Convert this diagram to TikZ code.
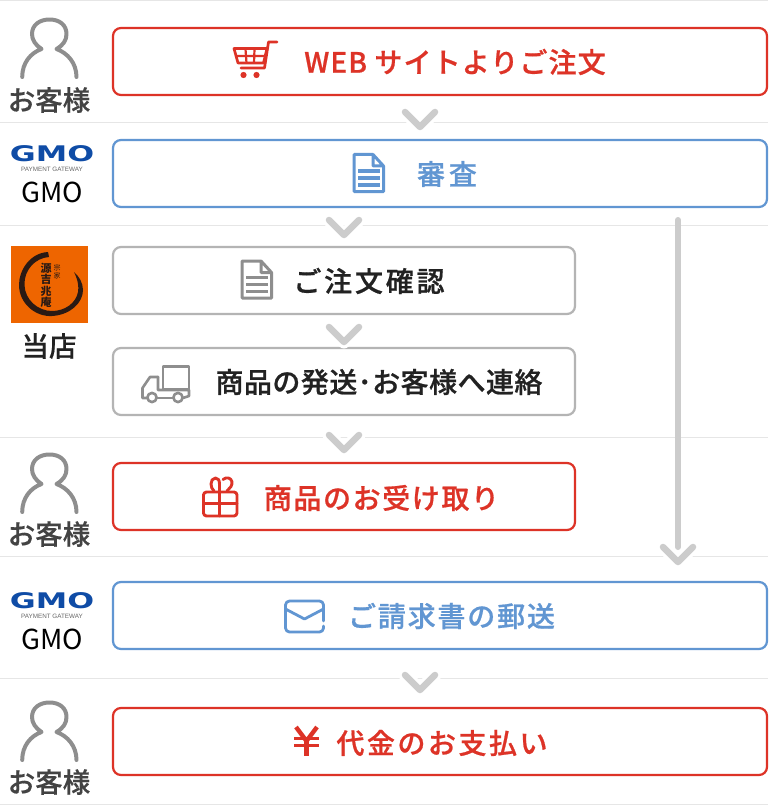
\documentclass[tikz,border=0pt]{standalone}
\usepackage{fontspec}
\setmainfont{Noto Sans CJK JP}
\newfontfamily\jpt[FakeBold=0.7]{Noto Sans CJK JP Medium}
\newfontfamily\jpn{Noto Sans CJK JP}
\newfontfamily\jpm[FakeBold=0.5]{Noto Sans CJK JP Medium}
\newfontfamily\logofont{DejaVu Sans}
\newfontfamily\logosmall{Liberation Sans}
\definecolor{cred}{HTML}{DD3327}
\definecolor{cblue}{HTML}{6196D2}
\definecolor{cgray}{HTML}{B4B4B4}
\definecolor{cicon}{HTML}{8E8E8E}
\definecolor{csep}{HTML}{E6E6E6}
\definecolor{cchev}{HTML}{CCCCCC}
\definecolor{ctext}{HTML}{222222}
\definecolor{corange}{HTML}{EE6500}
\definecolor{cink}{HTML}{2A1A14}
\definecolor{cgmo}{HTML}{0F4CA6}
\tikzset{
  sep/.style={draw=csep,line width=1.4pt},
  chev/.style={draw=cchev,line width=6.5pt,line join=round,line cap=round},
  halo/.style={draw=white,line width=13pt,line join=round,line cap=round},
  flowbox/.style={draw,line width=2.2pt,rounded corners=8pt,fill=white,inner sep=0pt,minimum height=67pt},
  wide/.style={minimum width=654pt},
  narrow/.style={minimum width=462pt},
  redbox/.style={flowbox,draw=cred},
  bluebox/.style={flowbox,draw=cblue},
  graybox/.style={flowbox,draw=cgray},
  title/.style={inner sep=0pt,font=\jpt\fontsize{28}{28}\selectfont},
  who/.style={inner sep=0pt,text=ctext!85!white,font=\jpm\fontsize{27.5}{27.5}\selectfont},
  gmotext/.style={inner sep=0pt,text=black,font=\jpn\fontsize{27.5}{27.5}\selectfont},
  ico/.style={line width=3pt,line cap=round,line join=round},
  person/.pic={\draw[draw=cicon,line width=4pt,line cap=round,line join=round]
    (22.7,77) .. controls (22.7,63) and (31,53) .. (42,49)
    .. controls (36,45) and (32.5,40) .. (32.5,34)
    .. controls (32.5,25) and (40,19.5) .. (50,19.5)
    .. controls (60,19.5) and (67,25) .. (67,34)
    .. controls (67,40) and (64,45) .. (57,49)
    .. controls (68,53) and (77,63) .. (77,77);},
  gmologo/.pic={
    \node[inner sep=0pt,text=cgmo,xscale=1.47,font=\logofont\fontsize{21.5}{21.5}\selectfont\bfseries] at (52,154) {GMO};
    \node[inner sep=0pt,text=black!60,font=\logosmall\fontsize{6.3}{6.3}\selectfont] at (52,169.5) {PAYMENT GATEWAY};},
  docicon/.pic={
    \draw[ico] (20.5,1.5) -- (1.5,1.5) -- (1.5,38.5) -- (31,38.5) -- (31,13) -- (20.5,1.5) -- (20.5,13) -- (31,13);
    \draw[ico,line cap=butt,line width=3.4pt] (5.5,18) -- (27.5,18) (5.5,25) -- (27.5,25) (5.5,32) -- (27.5,32);}
}
\begin{document}
\begin{tikzpicture}[x=1pt,y=-1pt]
\useasboundingbox (0,0) rectangle (768,805);
\fill[white] (0,0) rectangle (768,805);
% separators
\foreach \yy in {0.5,122.5,225.5,437.5,556.5,678.5,804.5}
  \draw[sep] (0,\yy) -- (768,\yy);
% boxes
\node[redbox,wide]    (b1) at (440,61.5) {};
\node[bluebox,wide]   (b2) at (440,173.5) {};
\node[graybox,narrow] (b3) at (344,280.5) {};
\node[graybox,narrow] (b4) at (344,381.5) {};
\node[redbox,narrow]  (b5) at (344,496.5) {};
\node[bluebox,wide]   (b6) at (440,615.5) {};
\node[redbox,wide]    (b7) at (440,741.5) {};
% box titles
\node[title,text=cred]  (t1) at (455,62) {\addfontfeature{LetterSpace=4}WEB サイトよりご注文};
\node[title,text=cblue] (t2) at (447,174) {\addfontfeature{LetterSpace=14}審査};
\node[title,text=ctext] (t3) at (369,281) {\addfontfeature{LetterSpace=10}ご注文確認};
\node[title,text=ctext] (t4) at (379,382) {\addfontfeature{LetterSpace=1.6}商品の発送･お客様へ連絡};
\node[title,text=cred]  (t5) at (381.5,498) {\addfontfeature{LetterSpace=5.7}商品のお受け取り};
\node[title,text=cblue] (t6) at (451.5,616) {\addfontfeature{LetterSpace=6.5}ご請求書の郵送};
\node[title,text=cred]  (t7) at (442,743) {\addfontfeature{LetterSpace=9}代金のお支払い};
% actors
\pic at (-0.5,0) {person};
\node[who] (w1) at (49,100) {お客様};
\pic at (0,0) {gmologo};
\node[gmotext] (w2) at (52.5,192.5) {GMO};
\fill[corange] (11,246) rectangle (88,323);
\fill[cink] (48,252) .. controls (30,253) and (19,270) .. (19,285)
  .. controls (19,303) and (35,317) .. (52,316)
  .. controls (70,315) and (83,303) .. (83,290)
  .. controls (83,283) and (79,276) .. (74,272)
  .. controls (78,280) and (79,287) .. (78,292)
  .. controls (76,303) and (65,311) .. (52,311)
  .. controls (38,311) and (25,300) .. (24.5,285)
  .. controls (24,270) and (35,258) .. (49,257) -- cycle;
\node[inner sep=0pt,text=cink,align=center,font=\jpn\fontsize{11}{11.5}\selectfont\bfseries] (logo1) at (46,285.5) {源\\吉\\兆\\庵};
\node[inner sep=0pt,text=cink,align=center,font=\jpn\fontsize{7}{8}\selectfont] (logo2) at (57,272) {宗\\家};
\node[who,text=ctext] (w3) at (49,346) {当店};
\pic at (-0.5,435) {person};
\node[who] (w4) at (49,534) {お客様};
\pic at (0,447) {gmologo};
\node[gmotext] (w5) at (52.5,639.5) {GMO};
\pic at (-0.5,683) {person};
\node[who] (w6) at (49,782) {お客様};
% chevrons
\coordinate (c1) at (420,127);
\coordinate (c2) at (344,235);
\coordinate (c3) at (344,342);
\coordinate (c4) at (344,450);
\coordinate (c5) at (420,690);
\foreach \cc in {c1,c2,c3,c4,c5}{
  \draw[halo] (\cc) ++(-15,-15) -- ++(15,15) -- ++(15,-15);
  \draw[chev] (\cc) ++(-15,-15) -- ++(15,15) -- ++(15,-15);}
\coordinate (lt) at (678,220);
\coordinate (lb) at (678,547);
\coordinate (la) at (678,562);
\draw[halo] (la) ++(-15,-15) -- ++(15,15) -- ++(15,-15);
\draw[chev,line width=6pt] (lt) -- (lb);
\draw[chev] (la) ++(-15,-15) -- ++(15,15) -- ++(15,-15);
% cart
\begin{scope}[draw=cred,line width=2.7pt,line join=round,line cap=round]
\draw (277,42) -- (268.5,42) -- (264.5,68) -- (241,68);
\draw (234,48.5) -- (267,48.5) -- (263.5,63) -- (238,63) -- cycle;
\draw[line width=2.2pt,line cap=butt] (236,56) -- (265,56)
  (245.5,49) -- (246.5,63) (254.5,49) -- (254,63);
\fill[cred] (243.5,75) circle (3.1) (256.5,75) circle (3.1);
\end{scope}
% doc icons
\pic[draw=cblue] at (352.5,153) {docicon};
\pic[draw=cicon] at (240.5,259.5) {docicon};
% truck
\begin{scope}[draw=cicon,line width=2.6pt,line join=round,line cap=round]
\draw (163,366.5) rectangle (189,389.5);
\draw (158,377) -- (150,377) -- (142.5,388) -- (142.5,398) -- (147,398);
\draw (158,377) -- (158,390) -- (189,390) -- (189,396) -- (183,398);
\draw (157,398) -- (173,398);
\draw (152,397.5) circle (4.6) (178,397.5) circle (4.6);
\end{scope}
% gift
\begin{scope}[draw=cred,line width=2.9pt,line join=round,line cap=round]
\draw[rounded corners=3pt] (203.5,492) rectangle (237,516);
\draw (219.5,492) -- (219.5,516) (203.5,503.5) -- (237,503.5);
\draw (219.5,492) -- (219.5,484) .. controls (219.5,480) and (218,478) .. (215.5,478) .. controls (212.5,478) and (211,481) .. (211,484) .. controls (211,487) and (212,489) .. (214,491);
\draw (223,479.5) .. controls (225,478) and (227,477.5) .. (228.5,478) .. controls (232,479) and (233,483) .. (231,486.5) -- (227,491);
\end{scope}
% envelope
\begin{scope}[draw=cblue,line width=2.8pt,line join=round,line cap=round]
\draw[rounded corners=4pt] (323.5,621) -- (323.5,601) -- (285.5,601) -- (285.5,632) -- (323.5,632) -- (323.5,626);
\draw (285.5,609) -- (304.5,619) -- (323.5,609);
\end{scope}
% yen
\begin{scope}[draw=cred,line width=4.4pt,line cap=butt,line join=miter]
\draw (296,727) -- (306.5,741) -- (317,727);
\draw (306.5,741) -- (306.5,756);
\draw[line width=2.8pt] (294,738.5) -- (319,738.5) (294,745.5) -- (319,745.5);
\end{scope}
\end{tikzpicture}
\end{document}
